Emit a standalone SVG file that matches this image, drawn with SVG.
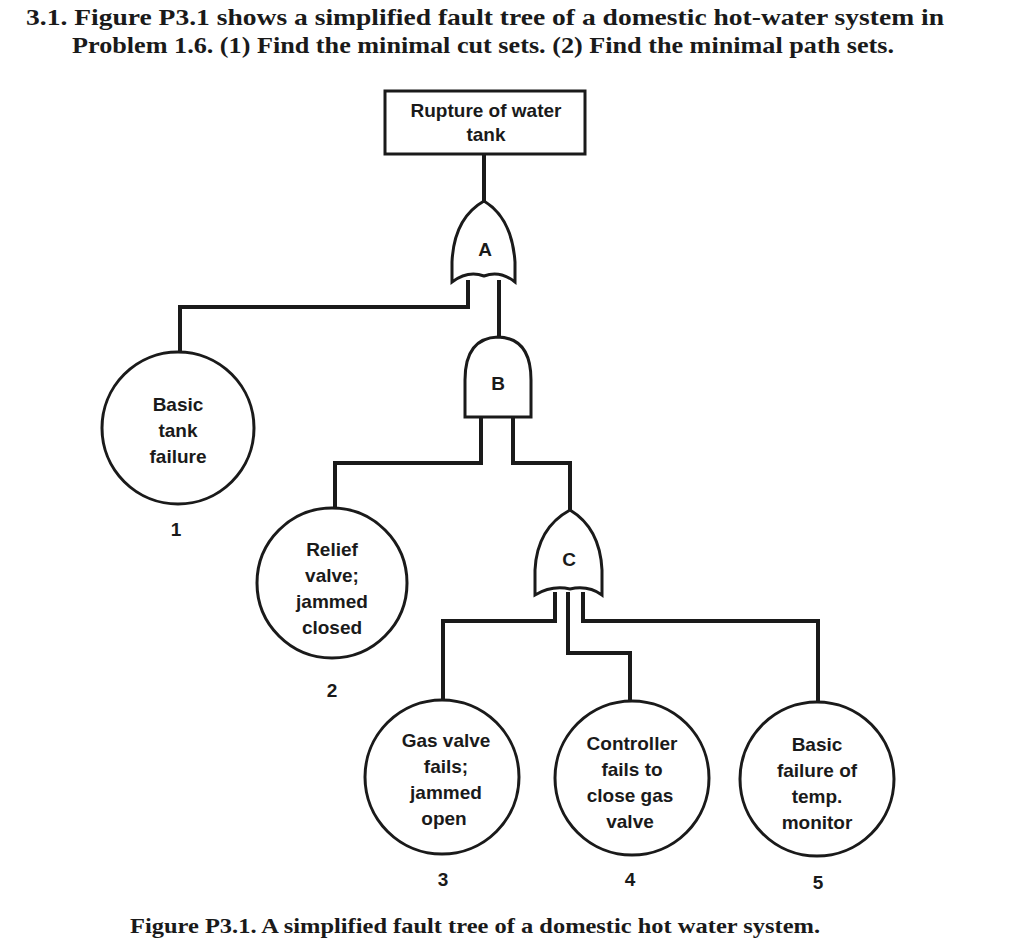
<svg xmlns="http://www.w3.org/2000/svg" width="1024" height="945" viewBox="0 0 1024 945">
<style>
.ln{fill:none;stroke:#1a1a1a;stroke-width:4}
.sh{fill:#fff;stroke:#1a1a1a;stroke-width:3}
.t{font-family:"Liberation Sans",Arial,sans-serif;font-size:19px;font-weight:bold;fill:#1a1a1a;text-anchor:middle}
.h{font-family:"Liberation Serif","Times New Roman",serif;font-size:24px;font-weight:bold;fill:#1a1a1a}
</style>
<rect width="1024" height="945" fill="#fff"/>
<text class="h" x="26" y="25" textLength="918" lengthAdjust="spacingAndGlyphs">3.1.  Figure P3.1 shows a simplified fault tree of a domestic hot-water system in</text>
<text class="h" x="72" y="53" textLength="822" lengthAdjust="spacingAndGlyphs">Problem 1.6. (1) Find the minimal cut sets. (2) Find the minimal path sets.</text>
<g id="connectors">
<path class="ln" d="M484 154V202"/>
<path class="ln" d="M468 280V307H180V352"/>
<path class="ln" d="M499 280V338"/>
<path class="ln" d="M481 417V463H335V507"/>
<path class="ln" d="M513 417V463H570V512"/>
<path class="ln" d="M555 592V621H443V700"/>
<path class="ln" d="M568 592V653H630V701"/>
<path class="ln" d="M583 592V621H818V702"/>
</g>
<g id="top"><rect class="sh" x="385" y="91" width="200" height="63"/><text class="t" x="486" y="117">Rupture of water</text><text class="t" x="486" y="141">tank</text></g>
<g id="gateA"><path class="sh" d="M484 201Q512 218 515 262V282Q500 270 484 276Q468 270 452 282V262Q454 218 484 201Z"/><text class="t" x="485" y="256">A</text></g>
<g id="gateB"><path class="sh" d="M465 417V380Q465 338 498 337Q531 338 531 380V417Z"/><text class="t" x="498" y="390">B</text></g>
<g id="gateC"><path class="sh" d="M570 510Q600 528 602 570V595Q588 585 570 589Q552 585 535 595V570Q537 528 570 510Z"/><text class="t" x="569" y="566">C</text></g>
<g id="e1"><circle class="sh" cx="178" cy="428" r="76"/><text class="t" x="178" y="411">Basic</text><text class="t" x="178" y="437">tank</text><text class="t" x="178" y="463">failure</text><text class="t" x="176" y="536">1</text></g>
<g id="e2"><circle class="sh" cx="332" cy="583" r="75"/><text class="t" x="332" y="556">Relief</text><text class="t" x="332" y="582">valve;</text><text class="t" x="332" y="608">jammed</text><text class="t" x="332" y="634">closed</text><text class="t" x="332" y="697">2</text></g>
<g id="e3"><circle class="sh" cx="442" cy="777" r="77"/><text class="t" x="446" y="747">Gas valve</text><text class="t" x="446" y="773">fails;</text><text class="t" x="446" y="799">jammed</text><text class="t" x="444" y="825">open</text><text class="t" x="443" y="886">3</text></g>
<g id="e4"><circle class="sh" cx="632" cy="778" r="77"/><text class="t" x="632" y="750">Controller</text><text class="t" x="632" y="776">fails to</text><text class="t" x="630" y="802">close gas</text><text class="t" x="630" y="828">valve</text><text class="t" x="630" y="886">4</text></g>
<g id="e5"><circle class="sh" cx="817" cy="779" r="77"/><text class="t" x="817" y="751">Basic</text><text class="t" x="817" y="777">failure of</text><text class="t" x="817" y="803">temp.</text><text class="t" x="817" y="829">monitor</text><text class="t" x="818" y="889">5</text></g>
<text class="h" x="130" y="933" style="font-size:21px" textLength="690" lengthAdjust="spacingAndGlyphs">Figure P3.1. A simplified fault tree of a domestic hot water system.</text>
</svg>
